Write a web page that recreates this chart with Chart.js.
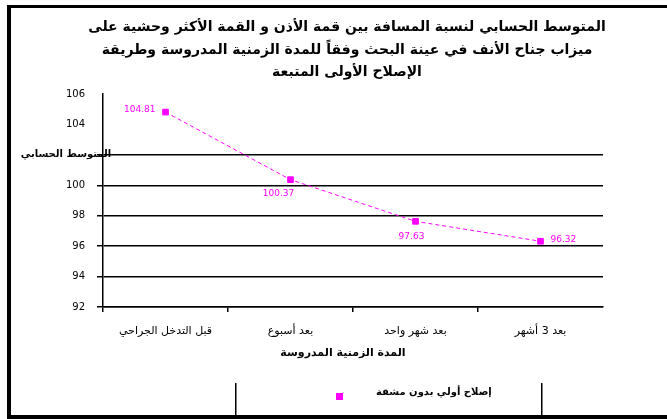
<!DOCTYPE html>
<html>
<head>
<meta charset="utf-8">
<script src="https://cdn.jsdelivr.net/npm/chart.js@4/dist/chart.umd.min.js"></script>
<style>
html,body{margin:0;padding:0;background:#fff;}
#wrap{width:667px;height:419px;position:relative;}
</style>
</head>
<body>
<div id="wrap"><canvas id="c" width="667" height="419"></canvas></div>
<script>
const categories = ["قبل التدخل الجراحي", "بعد أسبوع", "بعد شهر واحد", "بعد 3 أشهر"];
const values = [104.81, 100.37, 97.63, 96.32];
const valueLabels = ["104.81", "100.37", "97.63", "96.32"];
const seriesName = "إصلاح أولي بدون مشقة";
const titleLines = [
  "المتوسط الحسابي لنسبة المسافة بين قمة الأذن و القمة الأكثر وحشية على",
  "ميزاب جناح الأنف في عينة البحث وفقاً للمدة الزمنية المدروسة وطريقة",
  "الإصلاح الأولى المتبعة"
];
const yTitle = "المتوسط الحسابي";
const xTitle = "المدة الزمنية المدروسة";
const yMin = 92, yMax = 106, yStep = 2;

const AR = '"DejaVu Sans", sans-serif';
const MAG = '#ff00ff';

const decor = {
  id: 'decor',
  afterDraw(chart) {
    const ctx = chart.ctx;
    ctx.save();
    // frame
    ctx.fillStyle = '#000';
    ctx.fillRect(7, 5, 660, 3);
    ctx.fillRect(7, 5, 4, 414);
    ctx.fillRect(7, 415, 660, 4);
    // title
    ctx.fillStyle = '#000';
    ctx.textAlign = 'center';
    ctx.textBaseline = 'middle';
    ctx.font = 'bold 14px ' + AR;
    const ty = [27, 50, 72];
    titleLines.forEach((t, i) => ctx.fillText(t, 347, ty[i]));
    // y title
    const ys = chart.scales.y;
    ctx.font = 'bold 10px ' + AR;
    ctx.textAlign = 'center';
    ctx.fillText(yTitle, 66, ys.getPixelForValue(102));
    // x title
    ctx.font = 'bold 11px ' + AR;
    ctx.fillText(xTitle, 343, 353);
    // legend box
    ctx.fillStyle = '#000';
    ctx.fillRect(235, 383, 1.5, 33);
    ctx.fillRect(541, 383, 1.5, 33);
    ctx.fillStyle = MAG;
    ctx.fillRect(336, 393, 7, 7);
    ctx.fillStyle = '#000';
    ctx.font = 'bold 10px ' + AR;
    ctx.textAlign = 'left';
    ctx.fillText(seriesName, 376, 392);
    // data labels
    const meta = chart.getDatasetMeta(0);
    ctx.fillStyle = MAG;
    ctx.font = '9px ' + AR;
    const place = [['right', -10, -2], ['center', -12, 14], ['center', -4, 15], ['left', 10, -2]];
    meta.data.forEach((pt, i) => {
      const p = place[i];
      ctx.textAlign = p[0];
      ctx.fillText(valueLabels[i], pt.x + p[1], pt.y + p[2]);
    });
    ctx.restore();
  }
};

new Chart(document.getElementById('c'), {
  type: 'line',
  data: {
    labels: categories,
    datasets: [{
      label: seriesName,
      data: values,
      borderColor: MAG,
      backgroundColor: MAG,
      borderWidth: 1,
      borderDash: [4, 3],
      pointStyle: 'rect',
      pointRadius: 4,
      pointBackgroundColor: MAG,
      pointBorderColor: MAG,
      tension: 0
    }]
  },
  options: {
    responsive: false,
    animation: false,
    devicePixelRatio: 1,
    layout: { padding: { top: 94, right: 64, left: 0, bottom: 0 } },
    plugins: { legend: { display: false }, title: { display: false }, tooltip: { enabled: false } },
    scales: {
      x: {
        type: 'category',
        offset: true,
        grid: {
          drawOnChartArea: false, drawTicks: true, tickLength: 5, lineWidth: 1.5, offset: true,
          color: (c) => (c.tick === undefined || c.index === undefined) ? 'rgba(0,0,0,0)' : '#000'
        },
        border: { color: '#000', width: 1.5 },
        ticks: { color: '#000', font: { family: AR, size: 11 }, padding: 13, maxRotation: 0, autoSkip: false },
        afterFit(s) { s.height = 112; }
      },
      y: {
        min: yMin, max: yMax,
        grid: {
          drawTicks: true, tickLength: 6, lineWidth: 1.5,
          color: (c) => (c.tick && c.tick.value <= 102) ? '#000' : 'rgba(0,0,0,0)'
        },
        border: { color: '#000', width: 1.5 },
        ticks: {
          stepSize: yStep, color: '#000', font: { family: AR, size: 10 }, padding: 12,
          callback: (v) => v === 102 ? '' : String(v)
        },
        afterFit(s) { s.width = 103; }
      }
    }
  },
  plugins: [decor]
});
</script>
</body>
</html>
